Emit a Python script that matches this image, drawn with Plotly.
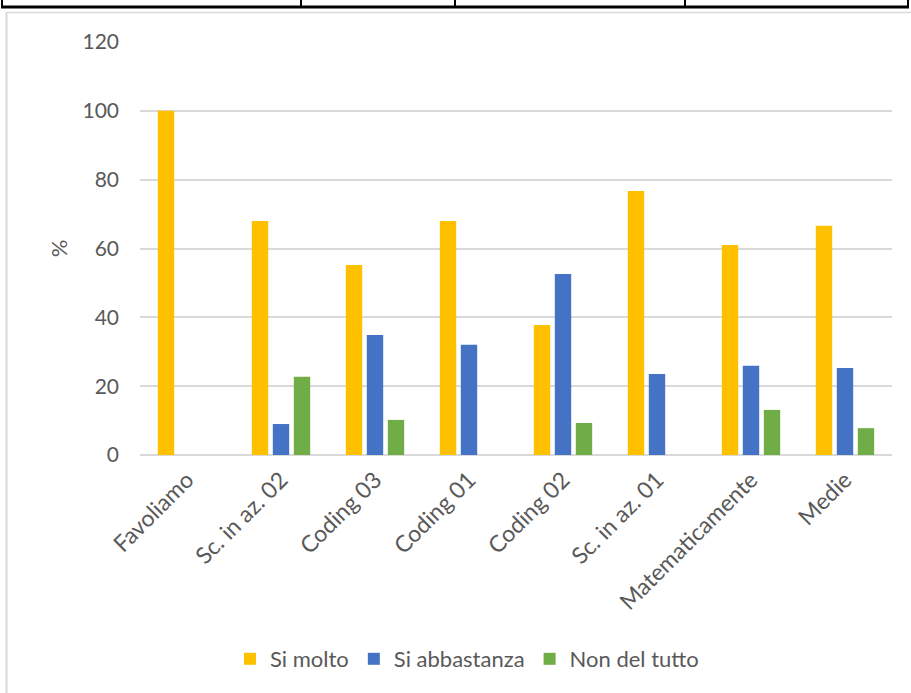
import plotly.graph_objects as go

categories = ["Favoliamo", "Sc. in az. 02", "Coding 03", "Coding 01", "Coding 02",
              "Sc. in az. 01", "Matematicamente", "Medie"]
si_molto = [100, 68.0, 55.2, 68.0, 37.8, 76.7, 61.0, 66.6]
si_abbastanza = [0, 9.0, 34.9, 32.0, 52.6, 23.5, 25.9, 25.3]
non_del_tutto = [0, 22.7, 10.2, 0, 9.3, 0, 13.1, 7.8]
y_ticks = [0, 20, 40, 60, 80, 100, 120]

FONT = "Lato, 'Open Sans', sans-serif"
TXT = "#595959"

fig = go.Figure()
for name, vals, col in [("Si molto", si_molto, "#FFC000"),
                        ("Si abbastanza", si_abbastanza, "#4472C4"),
                        ("Non del tutto", non_del_tutto, "#70AD47")]:
    fig.add_trace(go.Bar(x=categories, y=vals, name=name,
                         marker=dict(color=col, line=dict(width=0))))

W, H = 911, 693
L, R, T, B = 140, 892, 42, 455
pw, ph = R - L, B - T

def px(x):
    return (x - L) / pw

def py(y):
    return (B - y) / ph

shapes = []
# chart frame (light gray)
shapes.append(dict(type="line", xref="paper", yref="paper", x0=px(6), x1=px(911), y0=py(12.5), y1=py(12.5),
                   line=dict(color="#d9d9d9", width=1.5)))
shapes.append(dict(type="line", xref="paper", yref="paper", x0=px(6.5), x1=px(6.5), y0=py(12), y1=py(693),
                   line=dict(color="#d9d9d9", width=2)))
# table bottom border (black)
shapes.append(dict(type="line", xref="paper", yref="paper", x0=px(1), x1=px(909), y0=py(7), y1=py(7),
                   line=dict(color="black", width=3)))
for xv in [2, 301, 455, 685, 908]:
    shapes.append(dict(type="line", xref="paper", yref="paper", x0=px(xv), x1=px(xv), y0=py(0), y1=py(8),
                       line=dict(color="black", width=2)))

fig.update_layout(
    width=W, height=H,
    margin=dict(l=L, r=W - R, t=T, b=H - B, autoexpand=False),
    paper_bgcolor="white", plot_bgcolor="white",
    barmode="group", bargap=0.33, bargroupgap=0.22,
    font=dict(family=FONT, color=TXT, size=20),
    showlegend=True,
    legend=dict(orientation="h", x=px(467), xanchor="center", y=py(659), yanchor="middle",
                font=dict(size=22, color=TXT, family=FONT), itemwidth=30, traceorder="normal"),
    shapes=shapes,
)
fig.update_yaxes(range=[0, 120], tickvals=y_ticks, showgrid=True, gridcolor="#d9d9d9", gridwidth=1.5,
                 zeroline=True, zerolinecolor="#d9d9d9", zerolinewidth=1.5, showline=False,
                 ticks="", ticklabelstandoff=20,
                 tickfont=dict(size=21, color=TXT, family=FONT),
                 title=dict(text="%", font=dict(size=22, color=TXT, family=FONT), standoff=8))
fig.update_xaxes(tickangle=-45, showgrid=False, showline=False, ticks="", ticklabelstandoff=6,
                 tickfont=dict(size=23, color=TXT, family=FONT))

fig.write_html("out.html", config={"displayModeBar": False},
               post_script="document.body.style.margin='0';document.body.style.overflow='hidden';")
